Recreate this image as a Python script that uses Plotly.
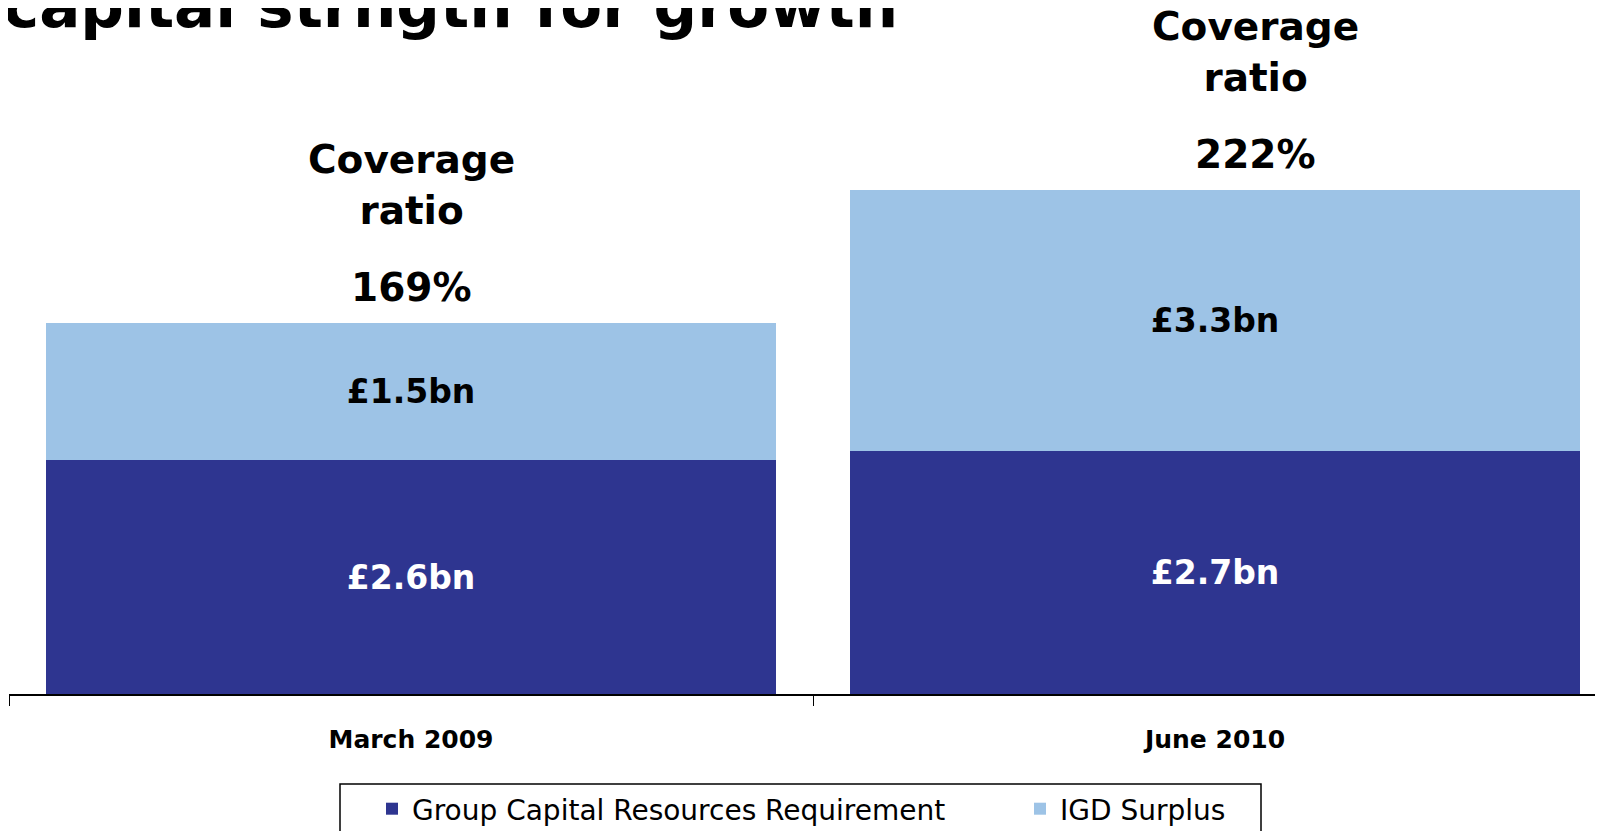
import plotly.graph_objects as go

# ---- data ----
categories = ["March 2009", "June 2010"]
gcrr_values = [2.6, 2.7]          # Group Capital Resources Requirement (bar length, £bn)
surplus_values = [1.52, 2.9]      # IGD Surplus (bar length as drawn)
gcrr_labels = ["£2.6bn", "£2.7bn"]
surplus_labels = ["£1.5bn", "£3.3bn"]
coverage_ratios = ["169%", "222%"]
series_names = ["Group Capital Resources Requirement", "IGD Surplus"]
title_text = "capital strngth for growth"

DARK = "#2E3590"
LIGHT = "#9DC3E6"
FONT = "DejaVu Sans"

# page body has an 8px margin: figure is placed at (8, 8) in the window
W, H = 1595, 823
ML, MB = 1, 137
PW, PH = W - ML, H - MB        # plot area size (1594 x 686)
PX_PER_UNIT = 90.0


def px(xs):   # screen x -> paper x
    return (xs - 8 - ML) / PW


def py(ys):   # screen y -> paper y
    return (PH - (ys - 8)) / PH


totals = [a + b for a, b in zip(gcrr_values, surplus_values)]

fig = go.Figure()
fig.add_trace(go.Bar(
    x=categories, y=gcrr_values, name=series_names[0],
    marker=dict(color=DARK, line=dict(width=0)),
    text=gcrr_labels, textposition="inside", insidetextanchor="middle",
    textangle=0,
    textfont=dict(family=FONT, size=33, color="white", weight="bold"),
))
fig.add_trace(go.Bar(
    x=categories, y=surplus_values, name=series_names[1],
    marker=dict(color=LIGHT, line=dict(width=0)),
    text=surplus_labels, textposition="inside", insidetextanchor="middle",
    textangle=0,
    textfont=dict(family=FONT, size=33, color="black", weight="bold"),
))

# coverage ratio annotations above each bar
for i, (cat, tot, ratio) in enumerate(zip(categories, totals, coverage_ratios)):
    xs = 0 if i == 0 else 40
    fig.add_annotation(x=cat, y=tot, xref="x", yref="y", text="Coverage<br>ratio",
                       showarrow=False, yanchor="middle", xshift=xs, yshift=138,
                       font=dict(family=FONT, size=39, color="black", weight="bold"))
    fig.add_annotation(x=cat, y=tot, xref="x", yref="y", text=ratio,
                       showarrow=False, yanchor="middle", xshift=xs, yshift=36,
                       font=dict(family=FONT, size=39, color="black", weight="bold"))

# clipped title at top
fig.add_annotation(text=title_text, xref="paper", yref="paper",
                   x=px(1), y=py(6), xanchor="left", yanchor="middle",
                   showarrow=False,
                   font=dict(family=FONT, size=61, color="black", weight="bold"))

# legend frame
fig.add_shape(type="rect", xref="paper", yref="paper",
              x0=px(340), x1=px(1261), y0=py(784), y1=py(845),
              line=dict(color="black", width=1.5), fillcolor="rgba(0,0,0,0)")

fig.update_layout(
    width=W, height=H,
    barmode="stack", bargap=0.091,
    paper_bgcolor="white", plot_bgcolor="white",
    margin=dict(l=ML, r=0, t=0, b=MB, autoexpand=False),
    showlegend=True,
    legend=dict(
        orientation="h", x=px(340), y=py(784),
        xanchor="left", yanchor="top", traceorder="normal",
        borderwidth=0, bgcolor="rgba(0,0,0,0)",
        font=dict(family=FONT, size=28, color="black"),
        entrywidth=571, indentation=32,
    ),
    xaxis=dict(
        type="category", range=[-0.5, -0.5 + PW / 804],
        showline=True, linecolor="black", linewidth=2,
        ticks="outside", tickson="boundaries", ticklen=10, tickwidth=1.2, tickcolor="black",
        tickfont=dict(family=FONT, size=25, color="black", weight="bold"),
        ticklabelstandoff=22,
        showgrid=False, zeroline=False,
    ),
    yaxis=dict(range=[0, PH / PX_PER_UNIT], visible=False, showgrid=False, zeroline=False),
)

fig.write_html("out.html")
